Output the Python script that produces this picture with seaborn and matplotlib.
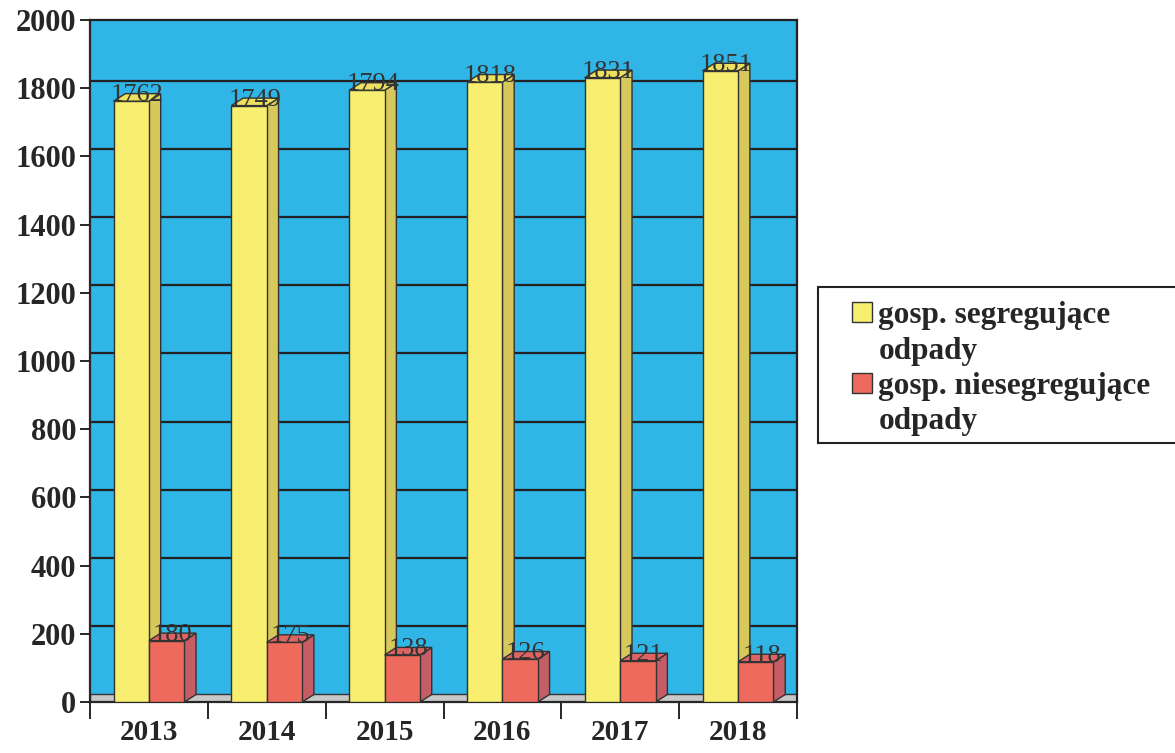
import matplotlib
matplotlib.use("Agg")
import matplotlib.pyplot as plt
from matplotlib.patches import Polygon, Rectangle
import seaborn as sns
import pandas as pd

years = ["2013", "2014", "2015", "2016", "2017", "2018"]
segregujace = [1762, 1749, 1794, 1818, 1831, 1851]
niesegregujace = [180, 175, 138, 126, 121, 118]
series_names = ["gosp. segregujące", "gosp. niesegregujące"]
label_tail = "odpady"

df = pd.DataFrame({
    "rok": years * 2,
    "wartosc": segregujace + niesegregujace,
    "seria": [series_names[0]] * 6 + [series_names[1]] * 6,
})

sns.set_style("white")
plt.rcParams["font.family"] = ["Liberation Serif", "DejaVu Serif"]

front = ["#f8ef70", "#ee6a5c"]
side = ["#d6c85a", "#c65c66"]
top = ["#ece05e", "#dc6462"]
blue = "#2fb5e6"

fig = plt.figure(figsize=(11.75, 7.53), dpi=100)
ax = fig.add_axes([90 / 1175, 1 - 702 / 753, 707 / 1175, 682 / 753])
ax.set_facecolor(blue)

sns.barplot(data=df, x="rok", y="wartosc", hue="seria", palette=front,
            saturation=1, width=0.6, edgecolor="#333333", linewidth=1.0,
            ax=ax, zorder=3, legend=True)

ax.set_ylim(0, 2000)
ax.set_xlim(-0.5, 5.5)

# black gridlines on the back wall
for v in range(200, 2001, 200):
    ax.axhline(v + 22, color="#222222", lw=1.6, zorder=1)

# grey floor
ax.add_patch(Rectangle((-0.5, 0), 6, 22, facecolor="#c8c8c8",
                       edgecolor="#333333", lw=1, zorder=2))

# fake 3D side/top faces and value labels
dx, dy = 0.1, 22
for i, cont in enumerate(ax.containers):
    for bar, val in zip(cont, [segregujace, niesegregujace][i]):
        x, w, h = bar.get_x(), bar.get_width(), bar.get_height()
        ax.add_patch(Polygon([(x + w, 0), (x + w + dx, dy), (x + w + dx, h + dy), (x + w, h)],
                             closed=True, facecolor=side[i], edgecolor="#333333",
                             lw=1.0, zorder=2.9))
        ax.add_patch(Polygon([(x, h), (x + dx, h + dy), (x + w + dx, h + dy), (x + w, h)],
                             closed=True, facecolor=top[i], edgecolor="#333333",
                             lw=1.0, zorder=3.1))
        ax.text(x + (w + dx) / 2, h - 15, str(val), ha="center", va="bottom",
                fontsize=19, color="#333333", zorder=4)

for s in ["top", "right"]:
    ax.spines[s].set_color("#222222")
    ax.spines[s].set_linewidth(1.6)
ax.spines["left"].set_linewidth(1.6)
ax.spines["bottom"].set_linewidth(1.6)

ax.set_yticks(range(0, 2001, 200))
ax.tick_params(axis="y", labelsize=22, length=7, width=1.4, direction="out",
               left=True, pad=3)
for t in ax.get_yticklabels():
    t.set_fontweight("bold")
ax.set_xticks(range(6))
ax.set_xticklabels(years, fontsize=21, fontweight="bold")
ax.tick_params(axis="x", length=0, pad=22)
ax.set_xticks([k - 0.5 for k in range(7)], minor=True)
ax.tick_params(axis="x", which="minor", length=12, width=1.4, bottom=True)
for t in ax.get_xticklabels():
    t.set_verticalalignment("center")
ax.set_xlabel("")
ax.set_ylabel("")

# legend box runs off the right edge like in the scan
fig.patches.append(Rectangle((818 / 1175, 1 - 443 / 753), 400 / 1175, 156 / 753,
                             transform=fig.transFigure, facecolor="white",
                             edgecolor="#222222", lw=1.5, zorder=0))
handles, labels = ax.get_legend_handles_labels()
ax.legend_.remove()
blank = Rectangle((0, 0), 1, 1, visible=False)
leg = fig.legend([handles[0], blank, handles[1], blank],
                 [labels[0], label_tail, labels[1], label_tail],
                 loc="upper left", bbox_to_anchor=(846 / 1175, 1 - 295 / 753),
                 prop={"weight": "bold", "size": 22.5}, frameon=False,
                 handlelength=0.62, handleheight=0.62, handletextpad=0.22,
                 labelspacing=0.2, borderpad=0.2, borderaxespad=0)

fig.savefig("out.png", dpi=100)
